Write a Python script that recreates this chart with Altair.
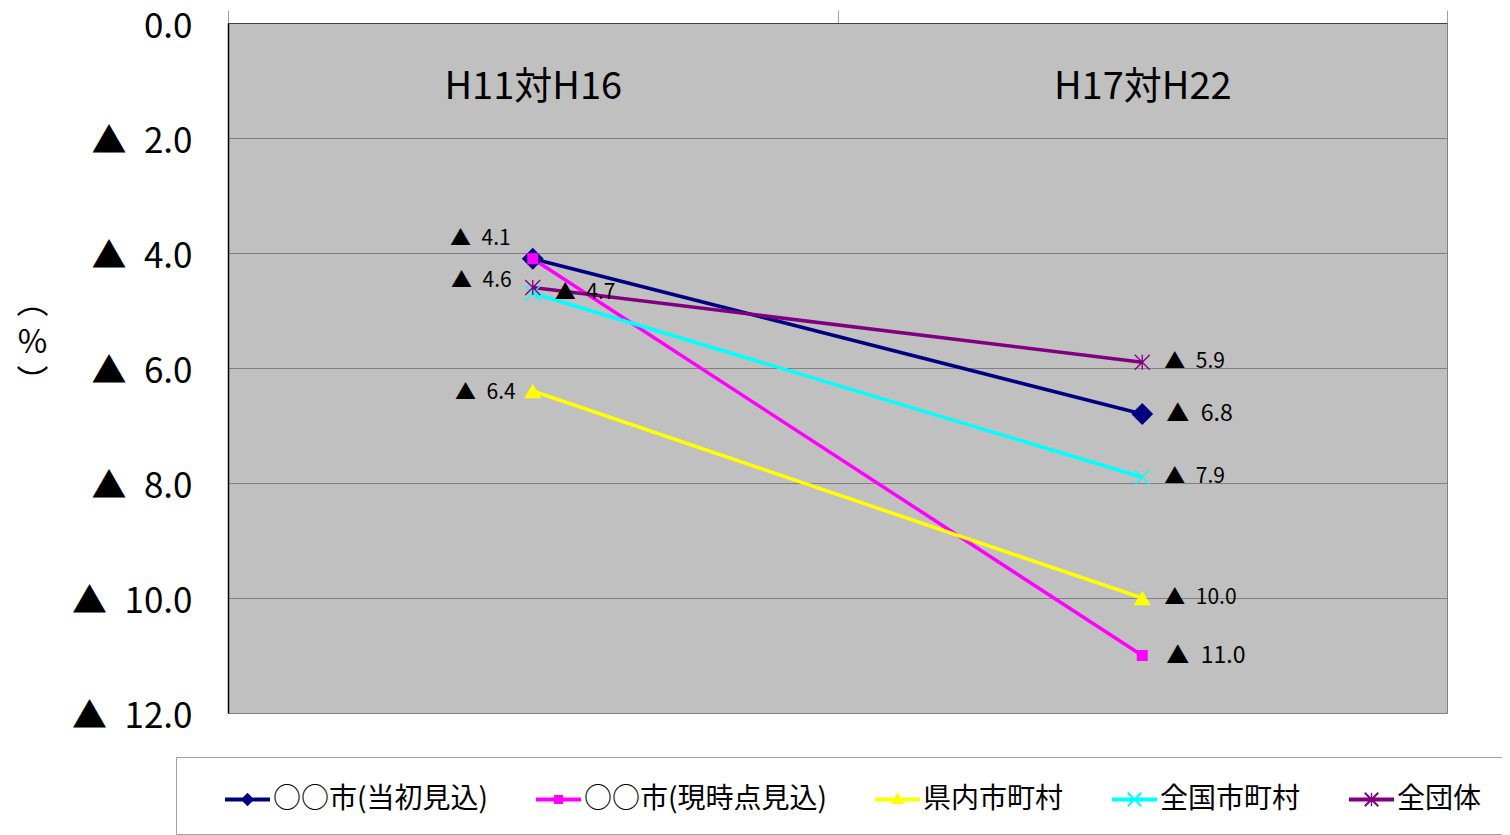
import altair as alt
import pandas as pd

# ---- data ----
periods = ["H11対H16", "H17対H22"]
series_names = ["○○市(当初見込)", "○○市(現時点見込)", "県内市町村", "全国市町村", "全団体"]
v_tousho = [4.1, 6.8]
v_genjiten = [4.1, 11.0]
v_kennai = [6.4, 10.0]
v_zenkoku = [4.7, 7.9]
v_zendantai = [4.6, 5.9]
y_ticks = [0, 2, 4, 6, 8, 10, 12]

colors = ["#000080", "#FF00FF", "#FFFF00", "#00FFFF", "#800080"]

rows = []
for name, vals in zip(series_names, [v_tousho, v_genjiten, v_kennai, v_zenkoku, v_zendantai]):
    for p, v in zip(periods, vals):
        rows.append({"series": name, "period": p, "value": v})
df = pd.DataFrame(rows)

FONT = "Noto Sans CJK JP"
GAP = "\u2002"  # en space between the triangle and the number

# marker shapes in the plot (style)
X_PATH = "M-1,-1L1,1M-1,1L1,-1"
AST_PATH = "M-1,-1L1,1M-1,1L1,-1M0,-1L0,1"
marker_shapes = ["diamond", "square", "triangle-up", X_PATH, AST_PATH]
marker_sizes = [480, 121, 289, 225, 225]
marker_filled = [True, True, True, False, False]

# legend symbols: line + marker drawn as filled paths
BAR = "M-1,-0.09H1V0.09H-1Z"
XB = ("M-0.33,-0.27L-0.27,-0.33L0.33,0.27L0.27,0.33Z"
      "M-0.33,0.27L0.27,-0.33L0.33,-0.27L-0.27,0.33Z")
legend_paths = [
    BAR + "M0,-0.3L0.3,0L0,0.3L-0.3,0Z",
    BAR + "M-0.2,-0.2H0.2V0.2H-0.2Z",
    BAR + "M0,-0.33L0.3,0.2H-0.3Z",
    BAR + XB,
    BAR + XB + "M-0.03,-0.3L0.03,-0.3L0.03,0.3L-0.03,0.3Z",
]

x_enc = alt.X(
    "period:N",
    sort=periods,
    scale=alt.Scale(type="band", domain=periods, paddingInner=0, paddingOuter=0),
    axis=alt.Axis(
        orient="top", title=None, labelAngle=0, labelFont=FONT, labelFontSize=38,
        labelColor="black", labelBaseline="middle", labelPadding=-77,
        tickBand="extent", tickSize=13, tickColor="#A0A0A0", tickWidth=1,
        domainColor="#404040", grid=False,
    ),
)
y_enc = alt.Y(
    "value:Q",
    scale=alt.Scale(domain=[0, 12], reverse=True, nice=False, zero=False),
    axis=alt.Axis(
        values=y_ticks,
        labelExpr=f"datum.value == 0 ? '0.0' : '▲{GAP}' + format(datum.value, '.1f')",
        labelFont=FONT, labelFontSize=35, labelColor="black", labelPadding=36,
        labelOffset=3,
        ticks=False, domainColor="black", domainWidth=1.5,
        grid=True, gridColor="#808080", gridWidth=1,
        title=["︵", "%", "︶"], titleAngle=0, titleFont=FONT, titleFontSize=32,
        titleFontWeight="normal", titleLineHeight=40, titleX=-196, titleY=279,
        titleAlign="center", titleBaseline="middle", titleColor="black",
    ),
)

color_scale = alt.Scale(domain=series_names, range=colors)
shape_scale = alt.Scale(domain=series_names, range=marker_shapes)

base = alt.Chart(df)

lines = base.mark_line(strokeWidth=3.5).encode(
    x=x_enc, y=y_enc,
    color=alt.Color("series:N", scale=color_scale, legend=None),
)

marker_layers = []
for name, size, filled in zip(series_names, marker_sizes, marker_filled):
    kw = dict(filled=filled, opacity=1, size=size)
    if not filled:
        kw["strokeWidth"] = 1.3
    marker_layers.append(
        base.transform_filter(alt.datum.series == name).mark_point(**kw).encode(
            x=x_enc, y=y_enc,
            color=alt.Color("series:N", scale=color_scale, legend=None),
            shape=alt.Shape("series:N", scale=shape_scale, legend=None),
        )
    )

legend_props = dict(
    title=" ", titleOrient="left", titlePadding=29, titleFontSize=8,
    orient="none", legendX=-52, legendY=734, direction="horizontal",
    columns=5, gridAlign="none", columnPadding=48,
    symbolSize=2025, symbolStrokeWidth=0, symbolOpacity=1,
    labelFont=FONT, labelFontSize=28, labelColor="black", labelLimit=500, labelOffset=3,
    padding=20, strokeColor="#A0A0A0", fillColor="white",
)

legend_layer = base.transform_filter("false").mark_point(filled=True, opacity=1).encode(
    x=x_enc, y=y_enc,
    color=alt.Color("series:N", scale=color_scale, legend=alt.Legend(**legend_props)),
    shape=alt.Shape("series:N", scale=alt.Scale(domain=series_names, range=legend_paths),
                    legend=alt.Legend(**legend_props)),
)

lab = base.transform_calculate(label=f"'▲{GAP}' + format(datum.value, '.1f')")
text_common = dict(baseline="middle", font=FONT, fontSize=21, color="black")


def label_layer(cond, **kw):
    opts = dict(text_common)
    opts.update(kw)
    return lab.transform_filter(cond).mark_text(**opts).encode(
        x=x_enc, y=y_enc, text="label:N"
    )


p1, p2 = periods
s = series_names
labels_right = label_layer(
    f"datum.period == '{p2}' && datum.series != '{s[0]}' && datum.series != '{s[1]}'",
    align="left", dx=22)
labels_right_big = label_layer(
    f"datum.period == '{p2}' && (datum.series == '{s[0]}' || datum.series == '{s[1]}')",
    align="left", dx=24, fontSize=23)
label_a = label_layer(f"datum.period == '{p1}' && datum.series == '{s[0]}'",
                      align="right", dx=-22, dy=-20)
label_b = label_layer(f"datum.period == '{p1}' && datum.series == '{s[4]}'",
                      align="right", dx=-21, dy=-7)
label_c = label_layer(f"datum.period == '{p1}' && datum.series == '{s[3]}'",
                      align="left", dx=22, dy=0)
label_d = label_layer(f"datum.period == '{p1}' && datum.series == '{s[2]}'",
                      align="right", dx=-17, dy=2)

chart = alt.layer(
    lines, *marker_layers, legend_layer,
    labels_right, labels_right_big, label_a, label_b, label_c, label_d,
).resolve_scale(
    color="independent", shape="independent"
).properties(
    width=1219, height=690, background="white",
    autosize=alt.AutoSizeParams(type="none"),
    padding={"left": 220, "top": 15, "right": 55, "bottom": 122},
).configure_view(
    fill="#C0C0C0", stroke="#808080", strokeWidth=1
)

chart.save("out.html", embed_options={"renderer": "svg", "actions": False})
